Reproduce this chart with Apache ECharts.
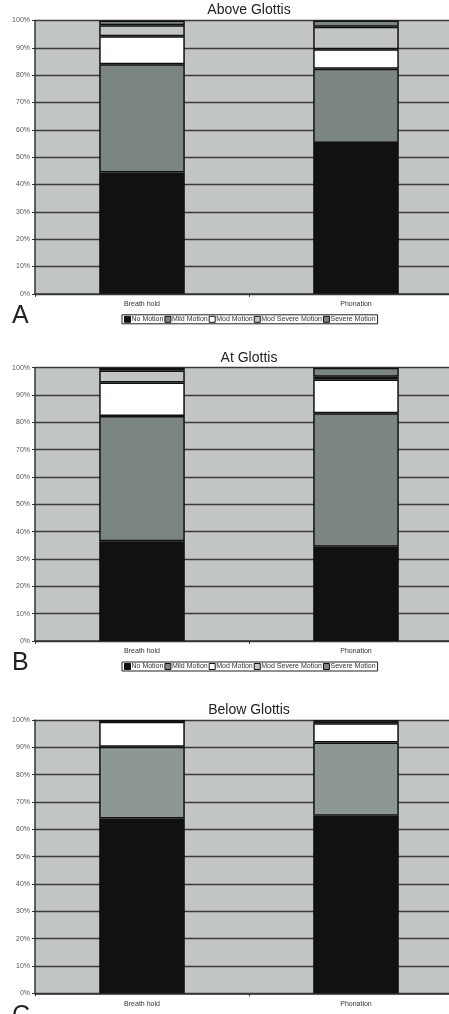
<!DOCTYPE html>
<html>

<head>
    <meta charset="utf-8" />
    <title>Glottis Motion</title>
    <script src="https://cdn.jsdelivr.net/npm/echarts@6/dist/echarts.min.js"></script>
    <style>
        html, body { margin: 0; background: #fff; overflow: hidden; }
    </style>
</head>

<body>
    <div id="main" style="width: 466px;height:1014px;"></div>
    <script>
        var categories = ['Breath hold', 'Phonation'];
        var motionNames = ['No Motion', 'Mild Motion', 'Mod Motion', 'Mod Severe Motion', 'Severe Motion'];
        var panelTitles = ['Above Glottis', 'At Glottis', 'Below Glottis'];
        var panelLetters = ['A', 'B', 'C'];
        var yTicks = [0, 10, 20, 30, 40, 50, 60, 70, 80, 90, 100];

        // percent of each motion grade, per panel: [Breath hold, Phonation]
        var aboveNo = [44.4, 55.2];
        var aboveMild = [39.6, 27.1];
        var aboveMod = [10.2, 7.2];
        var aboveModSevere = [4.1, 8.2];
        var aboveSevere = [1.7, 2.3];

        var atNo = [36.5, 34.5];
        var atMild = [45.8, 48.8];
        var atMod = [12.3, 12.4];
        var atModSevere = [4.4, 1.0];
        var atSevere = [1.0, 3.3];

        var belowNo = [64.0, 65.0];
        var belowMild = [26.2, 26.8];
        var belowMod = [9.2, 7.0];
        var belowModSevere = [0, 0.7];
        var belowSevere = [0.6, 0.5];

        var panels = [
            [aboveNo, aboveMild, aboveMod, aboveModSevere, aboveSevere],
            [atNo, atMild, atMod, atModSevere, atSevere],
            [belowNo, belowMild, belowMod, belowModSevere, belowSevere]
        ];

        var colorsAB = ['#111111', '#7b8581', '#ffffff', '#c1c6c3', '#7b8581'];
        var colorsC = ['#111111', '#8d9895', '#ffffff', '#c1c6c3', '#7b8581'];

        var gridTops = [20.5, 367.7, 720];
        var plotH = 273.3;

        var grids = [], xAxes = [], yAxes = [], series = [], graphics = [], legends = [];

        panels.forEach(function (panel, p) {
            grids.push({
                left: 35, top: gridTops[p], width: 428, height: plotH,
                show: true, backgroundColor: '#c1c6c3', borderWidth: 0
            });
            xAxes.push({
                type: 'category', gridIndex: p, data: categories,
                axisLine: { lineStyle: { color: '#333', width: 1.5 } },
                axisTick: { show: true, length: 3, lineStyle: { color: '#333' } },
                axisLabel: { fontSize: 7, color: '#333', margin: 7, fontFamily: 'Liberation Sans' }
            });
            yAxes.push({
                type: 'value', gridIndex: p, min: 0, max: 100, interval: 10,
                axisLine: { show: true, lineStyle: { color: '#333', width: 1.5 } },
                axisTick: { show: true, length: 3, lineStyle: { color: '#333' } },
                axisLabel: {
                    fontSize: 7, color: '#555', margin: 5, fontFamily: 'Liberation Sans',
                    formatter: function (v) { return yTicks.indexOf(v) >= 0 ? v + '%' : ''; }
                },
                splitLine: { show: true, lineStyle: { color: '#3a3a3a', width: 1.3 } }
            });
            var colors = p === 2 ? colorsC : colorsAB;
            panel.forEach(function (vals, s) {
                series.push({
                    type: 'bar', name: motionNames[s], stack: 'panel' + p,
                    xAxisIndex: p, yAxisIndex: p, barWidth: '40%',
                    data: vals,
                    itemStyle: { color: colors[s], borderColor: '#111', borderWidth: 1.5 },
                    emphasis: { disabled: true }
                });
            });
            graphics.push({
                type: 'text',
                style: {
                    x: 249, y: gridTops[p] - 17, text: panelTitles[p], textAlign: 'center',
                    fontSize: 14, fill: '#222', fontFamily: 'Liberation Sans'
                }
            });
            graphics.push({
                type: 'text',
                style: {
                    x: 12, y: gridTops[p] + plotH + 10, text: panelLetters[p],
                    fontSize: 25, fill: '#222', fontFamily: 'Liberation Sans'
                }
            });
        });

        [0, 1].forEach(function (p) {
            legends.push({
                data: motionNames, left: 122, top: gridTops[p] + plotH + 21,
                orient: 'horizontal', itemWidth: 6, itemHeight: 6, itemGap: 1,
                padding: [1, 2], borderColor: '#222', borderWidth: 1,
                icon: 'rect', selectedMode: false,
                itemStyle: { borderColor: '#111', borderWidth: 1 },
                textStyle: { fontSize: 7, color: '#333', padding: [0, 0, 0, -4], fontFamily: 'Liberation Sans' }
            });
        });

        var myChart = echarts.init(document.getElementById('main'));
        myChart.setOption({
            animation: false,
            backgroundColor: '#fff',
            grid: grids,
            xAxis: xAxes,
            yAxis: yAxes,
            legend: legends,
            graphic: graphics,
            series: series
        });
    </script>
</body>

</html>
